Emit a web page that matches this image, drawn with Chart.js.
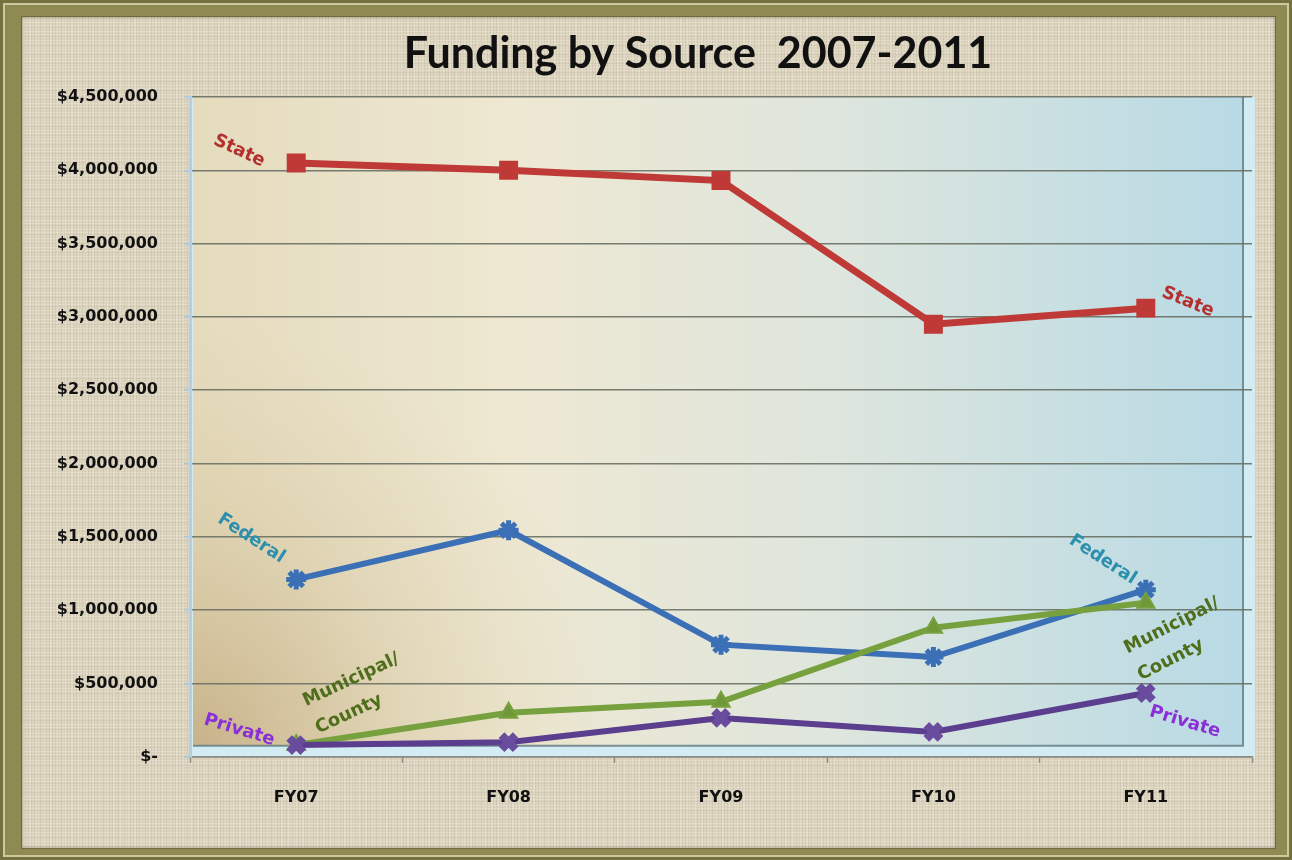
<!DOCTYPE html>
<html>
<head>
<meta charset="utf-8">
<title>Funding by Source 2007-2011</title>
<script src="https://cdn.jsdelivr.net/npm/chart.js@4.4.1/dist/chart.umd.min.js"></script>
<style>
  html, body { margin: 0; padding: 0; background: #8f8a52; }
  #frame {
    position: relative;
    width: 1292px;
    height: 860px;
    background: #8f8a52;
    box-shadow: inset 0 0 0 3px #75713f, inset 0 0 0 5px #cdc89e;
    overflow: hidden;
  }
  /* linen-look backdrop inside the olive frame */
  #linen {
    position: absolute;
    left: 22px;
    top: 17px;
    width: 1253px;
    height: 831px;
    background-color: #ddd4be;
    background-image:
      repeating-linear-gradient(0deg, rgba(255,255,255,0.20) 0px, rgba(255,255,255,0.20) 1px, transparent 1px, transparent 3px),
      repeating-linear-gradient(90deg, rgba(110,90,60,0.10) 0px, rgba(110,90,60,0.10) 1px, transparent 1px, transparent 3px),
      repeating-linear-gradient(90deg, rgba(255,255,255,0.14) 0px, rgba(255,255,255,0.14) 2px, transparent 2px, transparent 7px),
      repeating-linear-gradient(0deg, rgba(120,100,70,0.07) 0px, rgba(120,100,70,0.07) 2px, transparent 2px, transparent 9px);
    box-shadow: 0 0 0 1px #6e6a3c, inset 0 0 3px rgba(0,0,0,0.35);
  }
  #chart { position: absolute; left: 0; top: 0; }
</style>
</head>
<body>
<div id="frame">
  <div id="linen"></div>
  <canvas id="chart" width="1292" height="860"></canvas>
</div>
<script>
// --- Data ---
const fiscalYears = ['FY07', 'FY08', 'FY09', 'FY10', 'FY11'];
const stateFunding = [4050000, 4000000, 3930000, 2950000, 3060000];
const federalFunding = [1210000, 1545000, 765000, 680000, 1140000];
const municipalFunding = [80000, 300000, 375000, 880000, 1050000];
const privateFunding = [80000, 100000, 265000, 170000, 435000];

const axisMax = 4500000;
const axisStep = 500000;

const chartTitle = 'Funding by Source  2007-2011';

// --- Styling ---
const LABEL_FONT = 'bold 18px "DejaVu Sans"';
const TITLE_FONT = 'bold 43px Lato';
const AXIS_FONT = { family: '"DejaVu Sans"', size: 16, weight: 'bold' };

// tags written beside the first and last point of each line
// (dx, dy = centre of the first text line relative to the point)
const seriesTags = [
  { ds: 0, idx: 0, lines: ['State'], dx: -57, dy: -12, angle: 25, color: '#b3302e' },
  { ds: 0, idx: 4, lines: ['State'], dx: 42, dy: -6, angle: 22, color: '#b3302e' },
  { ds: 1, idx: 0, lines: ['Federal'], dx: -45, dy: -41, angle: 33, color: '#2c8fae' },
  { ds: 1, idx: 4, lines: ['Federal'], dx: -43, dy: -30, angle: 33, color: '#2c8fae' },
  { ds: 2, idx: 0, lines: ['Municipal/', 'County'], dx: 55, dy: -65, angle: -25, color: '#4f6e1c' },
  { ds: 2, idx: 4, lines: ['Municipal/', 'County'], dx: 26, dy: 23, angle: -27, color: '#4f6e1c' },
  { ds: 3, idx: 0, lines: ['Private'], dx: -57, dy: -15, angle: 17, color: '#8a2fd8' },
  { ds: 3, idx: 4, lines: ['Private'], dx: 39, dy: 29, angle: 17, color: '#8a2fd8' }
];

function formatDollars(value) {
  if (value === 0) return '$-';
  return '$' + value.toLocaleString('en-US');
}

// raised panel behind the plot: light side strips plus a tan-to-blue face
const panelPlugin = {
  id: 'panel',
  beforeDraw(chart) {
    const { ctx, chartArea: a } = chart;
    ctx.save();
    ctx.fillStyle = '#d3ebf2';
    ctx.fillRect(a.left, a.top, a.right + 3 - a.left, a.bottom - a.top);

    const faceL = a.left + 3, faceT = a.top, faceR = a.right - 9, faceB = a.bottom - 11;
    const g = ctx.createLinearGradient(faceL, 0, faceR, 0);
    g.addColorStop(0, '#e5dbbd');
    g.addColorStop(0.3, '#eee8d2');
    g.addColorStop(0.6, '#dfe6dd');
    g.addColorStop(1, '#b8dae5');
    ctx.fillStyle = g;
    ctx.fillRect(faceL, faceT, faceR - faceL, faceB - faceT);

    // warm shading in the lower left corner
    const r = ctx.createRadialGradient(faceL, faceB, 0, faceL, faceB, 420);
    r.addColorStop(0, 'rgba(175,145,95,0.55)');
    r.addColorStop(0.5, 'rgba(190,165,115,0.22)');
    r.addColorStop(1, 'rgba(200,180,130,0)');
    ctx.fillStyle = r;
    ctx.fillRect(faceL, faceT, faceR - faceL, faceB - faceT);

    // shadow edge on the right and bottom of the face
    ctx.strokeStyle = 'rgba(95,120,128,0.8)';
    ctx.lineWidth = 2;
    ctx.beginPath();
    ctx.moveTo(faceR, faceT);
    ctx.lineTo(faceR, faceB);
    ctx.lineTo(faceL, faceB);
    ctx.stroke();
    ctx.restore();
  }
};

// title sits a little left of the plot centre, over labels and plot together
const titlePlugin = {
  id: 'sheetTitle',
  afterDraw(chart) {
    const { ctx, chartArea } = chart;
    ctx.save();
    ctx.font = TITLE_FONT;
    ctx.fillStyle = '#111';
    ctx.textAlign = 'center';
    ctx.textBaseline = 'middle';
    ctx.fillText(chartTitle, (chartArea.left + chartArea.right) / 2 - 23, chartArea.top - 43);
    ctx.restore();
  }
};

// rotated series names next to the end points
const tagPlugin = {
  id: 'tags',
  afterDatasetsDraw(chart) {
    const { ctx } = chart;
    ctx.save();
    ctx.font = LABEL_FONT;
    ctx.textAlign = 'left';
    ctx.textBaseline = 'middle';
    seriesTags.forEach(t => {
      const pt = chart.getDatasetMeta(t.ds).data[t.idx];
      if (!pt) return;
      ctx.save();
      ctx.translate(pt.x + t.dx, pt.y + t.dy);
      ctx.rotate(t.angle * Math.PI / 180);
      ctx.fillStyle = t.color;
      const startX = -ctx.measureText(t.lines[0]).width / 2;
      t.lines.forEach((line, i) => ctx.fillText(line, startX, i * 30));
      ctx.restore();
    });
    ctx.restore();
  }
};

const ctx = document.getElementById('chart').getContext('2d');
new Chart(ctx, {
  type: 'line',
  data: {
    labels: fiscalYears,
    datasets: [
      {
        label: 'State',
        data: stateFunding,
        borderColor: '#bf3a36',
        backgroundColor: '#bf3a36',
        borderWidth: 7,
        pointStyle: 'rect',
        pointRadius: 12,
        pointBorderWidth: 2,
        order: 4
      },
      {
        label: 'Federal',
        data: federalFunding,
        borderColor: '#3b6fb6',
        backgroundColor: '#3b6fb6',
        borderWidth: 6,
        pointStyle: 'star',
        pointRadius: 10,
        pointBorderWidth: 5,
        order: 3
      },
      {
        label: 'Municipal/County',
        data: municipalFunding,
        borderColor: '#77a03e',
        backgroundColor: '#6f9838',
        borderWidth: 6,
        pointStyle: 'triangle',
        pointRadius: 10,
        pointBorderWidth: 2,
        order: 2
      },
      {
        label: 'Private',
        data: privateFunding,
        borderColor: '#5b3e8e',
        backgroundColor: '#6a4c9e',
        pointBorderColor: '#6a4c9e',
        borderWidth: 6,
        pointStyle: 'crossRot',
        pointRadius: 10,
        pointBorderWidth: 8,
        order: 1
      }
    ]
  },
  options: {
    responsive: false,
    animation: false,
    devicePixelRatio: 1,
    layout: { padding: { left: 22, right: 40, top: 97, bottom: 28 } },
    plugins: {
      legend: { display: false },
      tooltip: { enabled: false },
      title: { display: false }
    },
    scales: {
      x: {
        offset: true,
        grid: {
          offset: true,
          drawOnChartArea: false,
          drawTicks: true,
          tickLength: 6,
          tickColor: '#8c8c84',
          tickWidth: 1.5
        },
        border: { color: '#8c8c84', width: 1.5 },
        ticks: { color: '#111', font: AXIS_FONT, padding: 25 }
      },
      y: {
        min: 0,
        max: axisMax,
        afterFit(scale) { scale.width = 168; },
        grid: {
          color: 'rgba(105,112,100,0.9)',
          lineWidth: 1.5,
          drawTicks: true,
          tickLength: 6,
          tickColor: '#a8c6dc'
        },
        border: { color: '#b3d0e3', width: 3 },
        ticks: {
          stepSize: axisStep,
          color: '#111',
          font: AXIS_FONT,
          padding: 26,
          callback: formatDollars
        }
      }
    }
  },
  plugins: [panelPlugin, titlePlugin, tagPlugin]
});
</script>
</body>
</html>
